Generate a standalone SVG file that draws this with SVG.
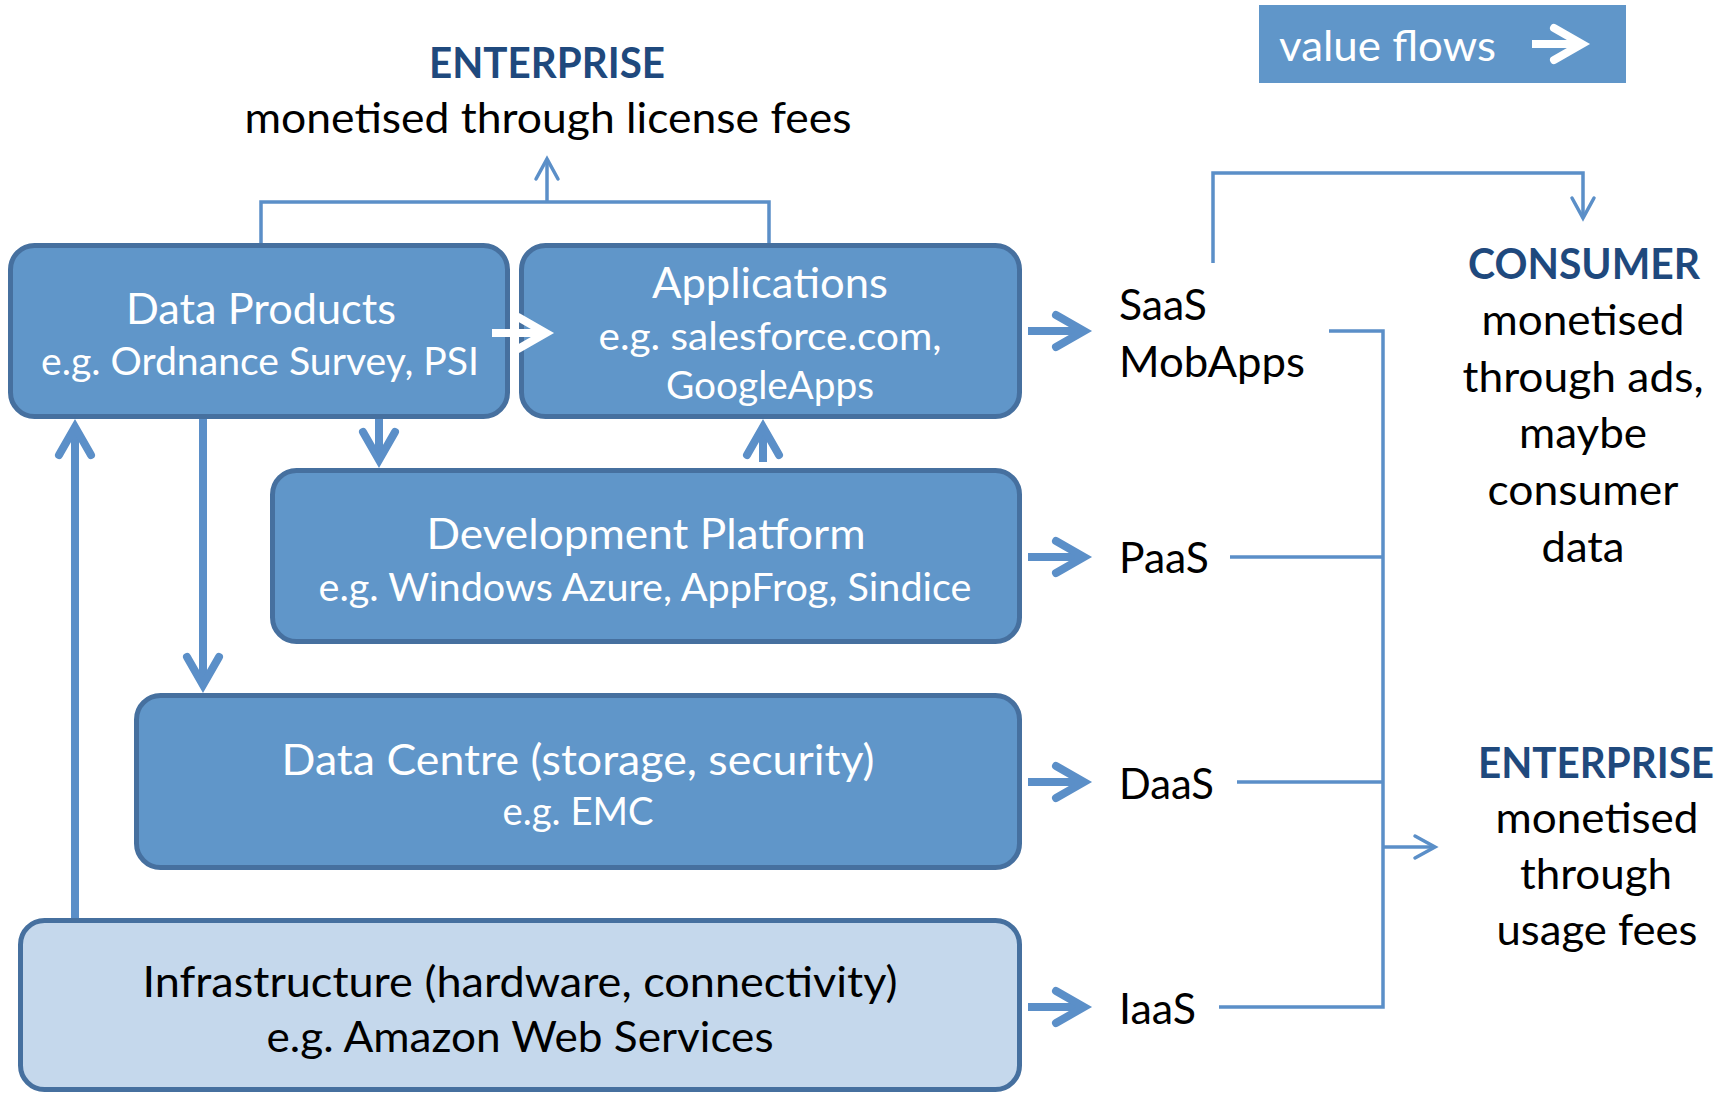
<svg xmlns="http://www.w3.org/2000/svg" width="1733" height="1093" viewBox="0 0 1733 1093">
<style>
text{font-family:Lato,"Liberation Sans",sans-serif;font-size:42px;}
.c{text-anchor:middle;}
.w{fill:#ffffff;}
.k{fill:#000000;}
.b{font-weight:bold;fill:#1F497D;}
.sub{font-size:38px;}
.box{fill:#6096C9;stroke:#46709F;stroke-width:5;}
.box2{fill:#C5D8EC;stroke:#46709F;stroke-width:5;}
.thin{fill:none;stroke:#5B8FC8;stroke-width:3.5;}
.thick{fill:none;stroke:#5B8FC8;stroke-width:8;}
.thickw{fill:none;stroke:#FFFFFF;stroke-width:8;}
</style>
<defs>
<marker id="ah" markerUnits="userSpaceOnUse" markerWidth="50" markerHeight="50" viewBox="-40 -25 50 50" refX="0" refY="0" orient="auto" overflow="visible">
<path d="M-28,-16 L0,0 L-28,16" fill="none" stroke="#5B8FC8" stroke-width="8" stroke-linecap="round" stroke-linejoin="miter"/>
</marker>
<marker id="ahw" markerUnits="userSpaceOnUse" markerWidth="50" markerHeight="50" viewBox="-40 -25 50 50" refX="0" refY="0" orient="auto" overflow="visible">
<path d="M-28,-16 L0,0 L-28,16" fill="none" stroke="#FFFFFF" stroke-width="8" stroke-linecap="round" stroke-linejoin="miter"/>
</marker>
<marker id="at" markerUnits="userSpaceOnUse" markerWidth="30" markerHeight="30" viewBox="-25 -15 30 30" refX="0" refY="0" orient="auto" overflow="visible">
<path d="M-20,-11 L0,0 L-20,11" fill="none" stroke="#5B8FC8" stroke-width="3.5" stroke-linecap="round" stroke-linejoin="miter"/>
</marker>
</defs>

<g id="legend">
<rect x="1259" y="5" width="367" height="78" fill="#6096C9"/>
<text x="1279" y="61" class="w" textLength="217" lengthAdjust="spacingAndGlyphs">value flows</text>
<path d="M1532,44 H1582" fill="none" stroke="#FFFFFF" stroke-width="8" marker-end="url(#ahw)"/>
</g>

<g id="top-enterprise">
<text x="547" y="78" class="c b" textLength="236" lengthAdjust="spacingAndGlyphs">ENTERPRISE</text>
<text x="548" y="133" class="c k" textLength="607" lengthAdjust="spacingAndGlyphs">monetised through license fees</text>
</g>

<g id="consumer">
<text x="1584" y="279" class="c b" textLength="232" lengthAdjust="spacingAndGlyphs">CONSUMER</text>
<text x="1583" y="335" class="c k" textLength="203" lengthAdjust="spacingAndGlyphs">monetised</text>
<text x="1583" y="392" class="c k" textLength="241" lengthAdjust="spacingAndGlyphs">through ads,</text>
<text x="1583" y="448" class="c k" textLength="128" lengthAdjust="spacingAndGlyphs">maybe</text>
<text x="1583" y="505" class="c k" textLength="191" lengthAdjust="spacingAndGlyphs">consumer</text>
<text x="1583" y="562" class="c k" textLength="83" lengthAdjust="spacingAndGlyphs">data</text>
</g>

<g id="right-enterprise">
<text x="1596" y="778" class="c b" textLength="236" lengthAdjust="spacingAndGlyphs">ENTERPRISE</text>
<text x="1597" y="833" class="c k" textLength="203" lengthAdjust="spacingAndGlyphs">monetised</text>
<text x="1596" y="889" class="c k" textLength="152" lengthAdjust="spacingAndGlyphs">through</text>
<text x="1597" y="945" class="c k" textLength="201" lengthAdjust="spacingAndGlyphs">usage fees</text>
</g>

<g id="data-products">
<rect class="box" x="10.5" y="245.5" width="497" height="171" rx="24"/>
<text x="261" y="324" class="c w" textLength="270" lengthAdjust="spacingAndGlyphs">Data Products</text>
<text x="260" y="375" class="c w sub" textLength="438" lengthAdjust="spacingAndGlyphs">e.g. Ordnance Survey, PSI</text>
</g>

<g id="applications">
<rect class="box" x="521.5" y="245.5" width="498" height="171" rx="24"/>
<text x="770" y="298" class="c w" textLength="236" lengthAdjust="spacingAndGlyphs">Applications</text>
<text x="770" y="350" class="c w sub" textLength="343" lengthAdjust="spacingAndGlyphs">e.g. salesforce.com,</text>
<text x="770" y="399" class="c w sub" textLength="208" lengthAdjust="spacingAndGlyphs">GoogleApps</text>
</g>

<g id="dev-platform">
<rect class="box" x="272.5" y="470.5" width="747" height="171" rx="24"/>
<text x="646" y="549" class="c w" textLength="439" lengthAdjust="spacingAndGlyphs">Development Platform</text>
<text x="645" y="601" class="c w sub" textLength="653" lengthAdjust="spacingAndGlyphs">e.g. Windows Azure, AppFrog, Sindice</text>
</g>

<g id="data-centre">
<rect class="box" x="136.5" y="695.5" width="883" height="172" rx="24"/>
<text x="578" y="775" class="c w" textLength="593" lengthAdjust="spacingAndGlyphs">Data Centre (storage, security)</text>
<text x="578" y="825" class="c w sub" textLength="151" lengthAdjust="spacingAndGlyphs">e.g. EMC</text>
</g>

<g id="infrastructure">
<rect class="box2" x="20.5" y="920.5" width="999" height="169" rx="24"/>
<text x="520" y="997" class="c k" textLength="755" lengthAdjust="spacingAndGlyphs">Infrastructure (hardware, connectivity)</text>
<text x="520" y="1052" class="c k" textLength="507" lengthAdjust="spacingAndGlyphs">e.g. Amazon Web Services</text>
</g>

<g id="labels">
<text x="1119" y="320" class="k" textLength="88" lengthAdjust="spacingAndGlyphs">SaaS</text>
<text x="1119" y="377" class="k" textLength="186" lengthAdjust="spacingAndGlyphs">MobApps</text>
<text x="1119" y="573" class="k" textLength="90" lengthAdjust="spacingAndGlyphs">PaaS</text>
<text x="1119" y="799" class="k" textLength="95" lengthAdjust="spacingAndGlyphs">DaaS</text>
<text x="1119" y="1024" class="k" textLength="77" lengthAdjust="spacingAndGlyphs">IaaS</text>
</g>

<g id="connectors">
<path class="thin" d="M261,243 V202 H769 V243"/>
<path class="thin" d="M547,202 V159" marker-end="url(#at)"/>
<path class="thin" d="M1213,263 V173 H1583 V218" marker-end="url(#at)"/>
<path class="thin" d="M1329,331 H1383 V1007 H1219"/>
<path class="thin" d="M1230,557 H1383"/>
<path class="thin" d="M1237,782 H1383"/>
<path class="thin" d="M1383,847 H1435" marker-end="url(#at)"/>

<path class="thickw" d="M492,333 H546" marker-end="url(#ahw)"/>
<path class="thick" d="M379,419 V460" marker-end="url(#ah)"/>
<path class="thick" d="M763,462 V427" marker-end="url(#ah)"/>
<path class="thick" d="M203,419 V685" marker-end="url(#ah)"/>
<path class="thick" d="M75,918 V427" marker-end="url(#ah)"/>

<path class="thick" d="M1028,331 H1084" marker-end="url(#ah)"/>
<path class="thick" d="M1028,557 H1084" marker-end="url(#ah)"/>
<path class="thick" d="M1028,782 H1084" marker-end="url(#ah)"/>
<path class="thick" d="M1028,1007 H1084" marker-end="url(#ah)"/>
</g>
</svg>
